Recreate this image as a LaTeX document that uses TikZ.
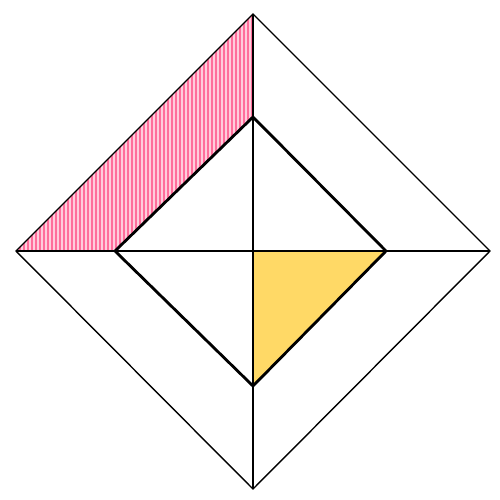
\documentclass[tikz,border=0pt]{standalone}
\usetikzlibrary{patterns.meta}
\definecolor{hatchpink}{RGB}{255,110,155}
\definecolor{lightpink}{RGB}{255,205,220}
\definecolor{cornyellow}{RGB}{255,217,102}

\begin{document}
\begin{tikzpicture}[x=0.5pt,y=-0.5pt,
		outer/.style={line width=0.7pt},
		inner/.style={line width=1.4pt}]
			\useasboundingbox (0,0) rectangle (500,500);

			\coordinate (OT) at (253,14);
			\coordinate (OL) at (16,251);
			\coordinate (OR) at (490,251);
			\coordinate (OB) at (253,489);

			\coordinate (IT) at (253,117);
			\coordinate (IL) at (115,251);
			\coordinate (IR) at (386,251);
			\coordinate (IB) at (253,386);

			\coordinate (C) at (253,251);

			% shaded parts
			\fill[lightpink] (OL) -- (OT) -- (IT) -- (IL) -- cycle;
			\fill[pattern={Lines[angle=90,distance=2pt,line width=0.6pt]},pattern color=hatchpink]
				(OL) -- (OT) -- (IT) -- (IL) -- cycle;
			\fill[cornyellow] (C) -- (IR) -- (IB) -- cycle;

			\draw[outer] (OT) -- (OR) -- (OB) -- (OL) -- cycle;
			\draw[inner] (IT) -- (IR) -- (IB) -- (IL) -- cycle;

			\draw[inner] (OT) -- (OB);
			\draw[inner] (OL) -- (OR);
		\end{tikzpicture}
\end{document}
